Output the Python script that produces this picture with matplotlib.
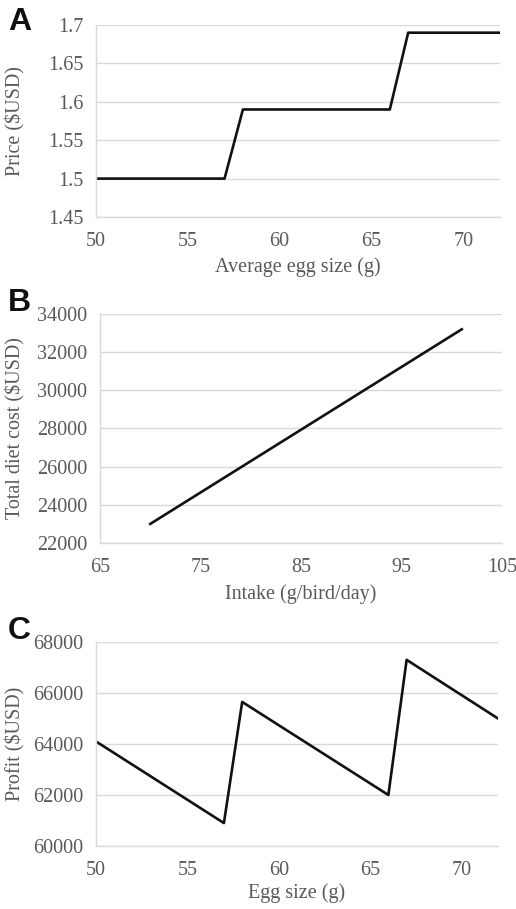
import matplotlib
matplotlib.use("Agg")
import matplotlib.pyplot as plt
from matplotlib.ticker import FuncFormatter, MultipleLocator, FixedLocator

# Panel A: price vs average egg size
egg_size_a = [50, 57, 58, 66, 67, 72]
price = [1.50, 1.50, 1.59, 1.59, 1.69, 1.69]

# Panel B: total diet cost vs intake
intake = [70, 101]
diet_cost = [23000, 33200]
intake_ticks = [65, 75, 85, 95, 105]

# Panel C: profit vs egg size
egg_size_c = [50, 57, 58, 66, 67, 72]
profit = [64100, 60900, 65650, 62000, 67300, 65000]

plt.rcParams['font.family'] = ['Liberation Serif', 'DejaVu Serif']
GREY = '#595959'
GRID = '#d9d9d9'
FS = 14.5
W, H = 516, 909

fig = plt.figure(figsize=(W / 100, H / 100), dpi=100)

def style(ax, xlabel, ylabel, xlab_y):
    for s in ['top', 'right']:
        ax.spines[s].set_visible(False)
    for s in ['left', 'bottom']:
        ax.spines[s].set_color(GRID)
        ax.spines[s].set_linewidth(1.0)
    ax.grid(axis='y', color=GRID, linewidth=1.0)
    ax.set_axisbelow(True)
    ax.tick_params(axis='both', length=0, labelsize=FS, labelcolor=GREY)
    ax.tick_params(axis='y', pad=9)
    ax.tick_params(axis='x', pad=11)
    xl = ax.set_xlabel(xlabel, fontsize=FS, color=GREY)
    yl = ax.set_ylabel(ylabel, fontsize=FS, color=GREY)
    pos = ax.get_position()
    ax.xaxis.set_label_coords((pos.x0 + pos.x1) / 2, 1 - xlab_y / H, transform=fig.transFigure)
    xl.set_va('center')
    ax.yaxis.set_label_coords(15 / W, (pos.y0 + pos.y1) / 2, transform=fig.transFigure)
    yl.set_va('center')
    ax.yaxis.set_major_formatter(FuncFormatter(lambda v, p: '%g' % round(v, 4)))

# A
axA = fig.add_axes([96 / W, 1 - 217 / H, 404 / W, 192 / H])
axA.plot(egg_size_a, price, color='#111111', linewidth=1.9)
axA.set_xlim(50, 72)
axA.set_ylim(1.45, 1.7)
axA.xaxis.set_major_locator(MultipleLocator(5))
axA.yaxis.set_major_locator(MultipleLocator(0.05))
style(axA, 'Average egg size (g)', 'Price ($USD)', 267)

# B
axB = fig.add_axes([100 / W, 1 - 543 / H, 402 / W, 229 / H])
axB.plot(intake, diet_cost, color='#111111', linewidth=1.9)
axB.set_xlim(65, 105)
axB.set_ylim(22000, 34000)
axB.xaxis.set_major_locator(FixedLocator(intake_ticks))
axB.yaxis.set_major_locator(MultipleLocator(2000))
style(axB, 'Intake (g/bird/day)', 'Total diet cost ($USD)', 594)

# C
axC = fig.add_axes([96 / W, 1 - 846 / H, 402 / W, 204 / H])
axC.plot(egg_size_c, profit, color='#111111', linewidth=1.9)
axC.set_xlim(50, 72)
axC.set_ylim(60000, 68000)
axC.xaxis.set_major_locator(MultipleLocator(5))
axC.yaxis.set_major_locator(MultipleLocator(2000))
style(axC, 'Egg size (g)', 'Profit ($USD)', 893)

for lab, ytop in [('A', 9), ('B', 290), ('C', 618)]:
    fig.text(8 / W, 1 - (ytop - 2) / H, lab, fontsize=23, fontweight='bold', va='top', ha='left',
             family=['Liberation Sans', 'DejaVu Sans'], color='#111111')

fig.savefig('out.png', dpi=100)
